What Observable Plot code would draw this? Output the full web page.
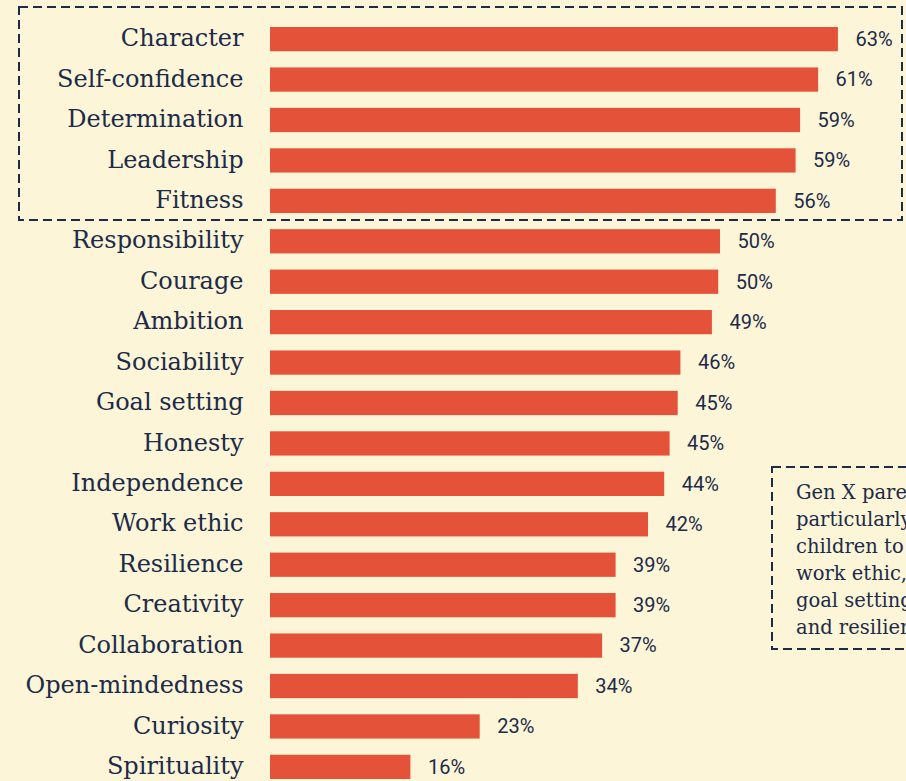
<!DOCTYPE html>
<html><head><meta charset="utf-8">
<script src="https://cdn.jsdelivr.net/npm/d3@7"></script>
<script src="https://cdn.jsdelivr.net/npm/@observablehq/plot@0.6"></script>
<style>
html,body{margin:0;padding:0;background:#fdf5d8;overflow:hidden;width:906px;height:781px}
#chart{position:absolute;left:0;top:0}
</style></head><body>
<div id="chart"></div>
<script>
const categories = ["Character","Self-confidence","Determination","Leadership","Fitness","Responsibility","Courage","Ambition","Sociability","Goal setting","Honesty","Independence","Work ethic","Resilience","Creativity","Collaboration","Open-mindedness","Curiosity","Spirituality"];
const values = [63.1,60.9,58.9,58.4,56.2,50.0,49.8,49.1,45.6,45.3,44.4,43.8,42.0,38.4,38.4,36.9,34.2,23.3,15.6];
const valueLabels = ["63%","61%","59%","59%","56%","50%","50%","49%","46%","45%","45%","44%","42%","39%","39%","37%","34%","23%","16%"];
const highlighted = ["Character","Fitness"];
const noteLines = ["Gen X parents are","particularly keen for","children to develop","work ethic,","goal setting","and resilience."];

const data = categories.map((c,i)=>({cat:c, value:values[i], label:valueLabels[i]}));
const navy = "#1c2b48";
const barColor = "#e4523a";

const plot = Plot.plot({
  width: 906, height: 781,
  marginLeft: 270, marginRight: 6, marginTop: 27, marginBottom: 2,
  style: {background: "transparent", color: navy},
  x: {domain: [0, 70], axis: null},
  y: {domain: categories, paddingInner: 0.4, paddingOuter: 0, round: false, axis: null},
  marks: [
    Plot.barX(data, {x: "value", y: "cat", fill: barColor}),
    Plot.text(data, {x: 0, y: "cat", text: "cat", textAnchor: "end", dx: -27, dy: -1, fontSize: 24, fontFamily: "DejaVu Serif", fill: navy}),
    Plot.text(data, {x: "value", y: "cat", text: "label", textAnchor: "start", dx: 17, fontSize: 20, fontFamily: "Roboto", fill: navy})
  ]
});
document.getElementById("chart").appendChild(plot);

const ys = plot.scale("y");
const bw = ys.bandwidth;
const svg = d3.select(plot);
const top1 = ys.apply(highlighted[0]) - 20;
const bot1 = ys.apply(highlighted[1]) + bw + 7;
svg.append("rect").attr("x", 19).attr("y", top1).attr("width", 883).attr("height", bot1 - top1)
  .attr("fill", "none").attr("stroke", navy).attr("stroke-width", 2).attr("stroke-dasharray", "9,5");

const g = svg.append("g").attr("text-anchor", "start");
g.append("rect").attr("x", 772).attr("y", 467).attr("width", 220).attr("height", 182)
  .attr("fill", "none").attr("stroke", navy).attr("stroke-width", 2).attr("stroke-dasharray", "9,5");
g.selectAll("text.note").data(noteLines).join("text")
  .attr("class", "note")
  .attr("x", 796).attr("y", (d,i)=>492 + i*27.1).attr("dy", "0.35em")
  .attr("text-anchor", "start")
  .attr("font-family", "DejaVu Serif").attr("font-size", 19.5).attr("fill", navy)
  .text(d=>d);
</script>
</body></html>
